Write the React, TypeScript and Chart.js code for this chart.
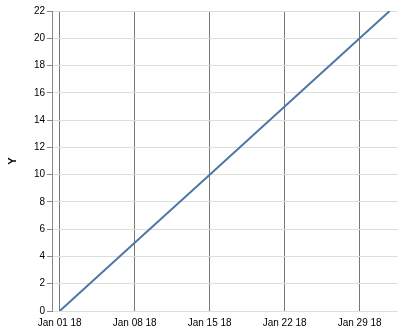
import React, { useEffect, useRef } from "react";
import { Chart, registerables } from "chart.js";

Chart.register(...registerables);

// days since Jan 01 2018
const dayOffsets = [0, 7, 14, 21, 28, 30.8];
const yValues = [0, 5, 10, 15, 20, 22];
const xTickDays = [0, 7, 14, 21, 28];
const xTickLabels = ["Jan 01 18", "Jan 08 18", "Jan 15 18", "Jan 22 18", "Jan 29 18"];
const yTicks = [0, 2, 4, 6, 8, 10, 12, 14, 16, 18, 20, 22];

export default function App() {
  const ref = useRef<HTMLCanvasElement>(null);
  useEffect(() => {
    if (!ref.current) return;
    const font = { family: "'Liberation Sans', Arial, sans-serif", size: 10 };
    const chart = new Chart(ref.current, {
      type: "line",
      data: {
        datasets: [
          {
            data: dayOffsets.map((d, i) => ({ x: d, y: yValues[i] })),
            borderColor: "#4c78a8",
            borderWidth: 2,
            pointRadius: 0,
            tension: 0,
          },
        ],
      },
      options: {
        animation: false,
        responsive: false,
        devicePixelRatio: 1,
        layout: { padding: { top: 11, right: 4, left: 0, bottom: 0 } },
        plugins: { legend: { display: false }, tooltip: { enabled: false } },
        scales: {
          x: {
            type: "linear",
            min: -0.72,
            max: 31.58,
            afterBuildTicks: (s: any) => {
              s.ticks = xTickDays.map((v) => ({ value: v }));
            },
            afterFit: (s: any) => {
              s.height = 23;
            },
            ticks: {
              font,
              color: "#000",
              padding: 6,
              maxRotation: 0,
              autoSkip: false,
              callback: (v: any) => {
                const i = xTickDays.indexOf(Number(v));
                return i >= 0 ? xTickLabels[i] : "";
              },
            },
            grid: { color: "#777", drawTicks: false, lineWidth: 1 },
            border: { display: false },
          },
          y: {
            type: "linear",
            min: 0,
            max: 22,
            afterBuildTicks: (s: any) => {
              s.ticks = yTicks.map((v) => ({ value: v }));
            },
            afterFit: (s: any) => {
              s.width = 52;
            },
            ticks: { font, color: "#000", padding: 2 },
            grid: { color: "#ddd", tickColor: "#888", tickLength: 5, drawTicks: true },
            border: { display: true, color: "#888" },
            title: {
              display: true,
              text: "Y",
              color: "#000",
              font: { family: "'Liberation Sans', Arial, sans-serif", size: 11, weight: "bold" },
              padding: { top: 6, bottom: 0 },
            },
          },
        },
      },
    } as any);
    return () => chart.destroy();
  }, []);
  return (
    <div style={{ position: "fixed", left: 0, top: 0, width: 402, height: 334, background: "#fff" }}>
      <canvas ref={ref} width={402} height={334} style={{ width: 402, height: 334, display: "block" }} />
    </div>
  );
}
